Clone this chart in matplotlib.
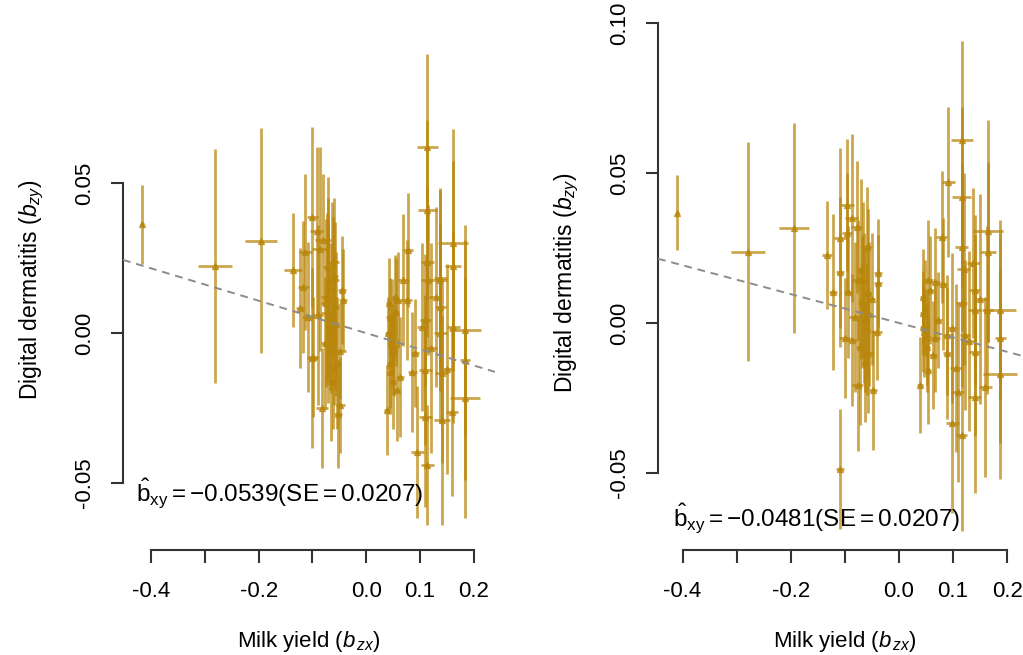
import matplotlib
matplotlib.use("Agg")
import matplotlib.pyplot as plt

plt.rcParams['font.family'] = ['Liberation Sans', 'DejaVu Sans']
plt.rcParams['mathtext.fontset'] = 'custom'
plt.rcParams['mathtext.rm'] = 'Liberation Sans'
plt.rcParams['mathtext.it'] = 'Liberation Sans:italic'
plt.rcParams['mathtext.bf'] = 'Liberation Sans:bold'

# ---------------- data: left panel ----------------
bx_L = [-0.417, -0.281, -0.196,
        -0.136, -0.113, -0.100, -0.092, -0.080, -0.117, -0.123, -0.108, -0.100, -0.082,
        -0.052, -0.048, -0.061, -0.045, -0.043, -0.048, -0.054, -0.073, -0.071, -0.067,
        -0.076, -0.063, -0.071, -0.086, -0.099,
        -0.065, -0.060, -0.058, -0.070, -0.062, -0.056, -0.066, -0.059, -0.075, -0.090,
        0.114, 0.114, 0.162, 0.162, 0.078, 0.114, 0.138, 0.138, 0.110, 0.138,
        0.162, 0.184, 0.184, 0.184, 0.141, 0.110, 0.110, 0.141, 0.160, 0.095,
        0.114, 0.039, 0.076, 0.091, 0.086, 0.045, 0.048, 0.051, 0.045, 0.054,
        0.060, 0.058, 0.041, 0.063, 0.069, 0.138, 0.115,
        0.048, 0.052, 0.044, 0.056, 0.050, 0.043, 0.120, 0.105, 0.150, 0.130]
by_L = [0.0363, 0.0223, 0.0307,
        0.021, 0.027, 0.0387, 0.034, 0.031, 0.0153, 0.0083, 0.0053, -0.0083, -0.025,
        -0.027, -0.024, 0.0237, 0.0143, 0.011, -0.006, -0.010, 0.012, 0.0067, 0.001,
        -0.0033, 0.0177, 0.022, 0.028, -0.008,
        0.005, -0.002, 0.009, 0.015, -0.012, 0.003, -0.016, 0.019, 0.010, 0.006,
        0.062, 0.041, 0.030, 0.0223, 0.0277, 0.0237, 0.0183, 0.0087, 0.0043, 0.0,
        0.002, 0.001, -0.009, -0.0217, -0.0133, -0.0123, -0.028, -0.029, -0.0263, -0.0397,
        -0.044, -0.0257, 0.011, -0.0067, -0.013, 0.0053, -0.0023, -0.0067, -0.010, 0.012,
        0.011, -0.019, 0.0, -0.0147, 0.0177, 0.0177, 0.0177,
        0.003, -0.005, -0.013, 0.007, -0.016, 0.010, -0.005, 0.002, -0.012, 0.012]
sex_L = [0.003, 0.032, 0.030,
         0.016, 0.012, 0.010, 0.012, 0.015, 0.010, 0.008, 0.012, 0.010, 0.012,
         0.008, 0.008, 0.010, 0.008, 0.008, 0.010, 0.008, 0.010, 0.012, 0.010,
         0.008, 0.012, 0.010, 0.015, 0.010,
         0.006, 0.006, 0.008, 0.006, 0.007, 0.006, 0.008, 0.006, 0.008, 0.010,
         0.020, 0.018, 0.028, 0.015, 0.010, 0.012, 0.012, 0.010, 0.010, 0.012,
         0.012, 0.030, 0.010, 0.028, 0.012, 0.012, 0.012, 0.015, 0.012, 0.012,
         0.012, 0.005, 0.010, 0.008, 0.008, 0.008, 0.006, 0.006, 0.006, 0.006,
         0.008, 0.006, 0.005, 0.008, 0.010, 0.012, 0.012,
         0.005, 0.006, 0.005, 0.006, 0.005, 0.005, 0.012, 0.010, 0.012, 0.012]
sey_L = [0.0132, 0.039, 0.0375,
         0.019, 0.026, 0.030, 0.028, 0.022, 0.022, 0.020, 0.025, 0.030, 0.020,
         0.018, 0.016, 0.015, 0.018, 0.017, 0.016, 0.022, 0.028, 0.030, 0.020,
         0.022, 0.026, 0.030, 0.034, 0.020,
         0.025, 0.022, 0.028, 0.030, 0.020, 0.024, 0.020, 0.026, 0.028, 0.030,
         0.031, 0.030, 0.038, 0.035, 0.019, 0.025, 0.030, 0.028, 0.022, 0.030,
         0.032, 0.035, 0.040, 0.040, 0.030, 0.025, 0.030, 0.035, 0.028, 0.022,
         0.020, 0.015, 0.020, 0.018, 0.020, 0.013, 0.012, 0.014, 0.015, 0.014,
         0.016, 0.017, 0.012, 0.020, 0.022, 0.030, 0.025,
         0.015, 0.016, 0.014, 0.018, 0.016, 0.015, 0.035, 0.028, 0.035, 0.030]

# ---------------- data: right panel ----------------
bx_R = [-0.410, -0.279, -0.194, -0.109,
        -0.133, -0.122, -0.109, -0.096, -0.087, -0.078, -0.096, -0.109, -0.094, -0.076,
        -0.059, -0.039, -0.039, -0.081, -0.100, -0.041, -0.068, -0.063, -0.057, -0.076,
        -0.048, -0.087, -0.067,
        -0.065, -0.060, -0.058, -0.070, -0.062, -0.056, -0.050, -0.072,
        0.116, 0.091, 0.116, 0.164, 0.164, 0.079, 0.116, 0.137, 0.054, 0.067,
        0.081, 0.140, 0.044, 0.116, 0.140, 0.163, 0.187, 0.044, 0.052, 0.067,
        0.089, 0.098, 0.122, 0.187, 0.063, 0.089, 0.140, 0.054, 0.039, 0.187,
        0.109, 0.159, 0.140, 0.098, 0.116, 0.072, 0.044,
        0.048, 0.052, 0.058, 0.046, 0.120, 0.105, 0.150, 0.130]
by_R = [0.0367, 0.0237, 0.0317, -0.0487,
        0.0227, 0.0103, 0.0283, 0.0393, 0.035, 0.032, 0.030, 0.017, 0.0103, 0.0143,
        0.0253, 0.0167, 0.0133, 0.002, -0.005, -0.003, 0.007, 0.001, -0.010, -0.0207,
        -0.0223, -0.0057, 0.0143,
        0.005, -0.002, 0.010, 0.018, -0.013, 0.003, 0.008, -0.008,
        0.061, 0.047, 0.042, 0.0307, 0.0237, 0.0287, 0.0253, 0.020, 0.0143, 0.0137,
        0.013, 0.011, 0.0087, 0.0067, 0.0043, 0.0043, 0.0043, -0.0013, -0.0047, -0.005,
        -0.004, -0.0017, -0.004, -0.005, -0.0107, -0.010, -0.0097, -0.0157, -0.0207, -0.017,
        -0.023, -0.0213, -0.0247, -0.0333, -0.0373, 0.001, 0.0033,
        0.005, -0.008, 0.011, -0.003, 0.018, -0.015, 0.008, -0.006]
sex_R = [0.003, 0.031, 0.028, 0.008,
         0.010, 0.008, 0.012, 0.012, 0.012, 0.010, 0.010, 0.008, 0.008, 0.010,
         0.010, 0.008, 0.008, 0.012, 0.010, 0.010, 0.008, 0.010, 0.010, 0.010,
         0.008, 0.010, 0.010,
         0.006, 0.006, 0.008, 0.006, 0.007, 0.006, 0.006, 0.008,
         0.020, 0.012, 0.018, 0.028, 0.015, 0.010, 0.012, 0.012, 0.008, 0.008,
         0.008, 0.010, 0.006, 0.010, 0.012, 0.010, 0.030, 0.006, 0.006, 0.008,
         0.008, 0.008, 0.010, 0.010, 0.008, 0.008, 0.010, 0.006, 0.006, 0.032,
         0.012, 0.012, 0.012, 0.012, 0.010, 0.008, 0.006,
         0.005, 0.005, 0.006, 0.005, 0.012, 0.010, 0.012, 0.012]
sey_R = [0.0125, 0.0365, 0.035, 0.020,
         0.018, 0.026, 0.030, 0.022, 0.028, 0.022, 0.020, 0.025, 0.022, 0.020,
         0.020, 0.018, 0.016, 0.025, 0.020, 0.016, 0.022, 0.024, 0.020, 0.022,
         0.020, 0.022, 0.026,
         0.025, 0.022, 0.028, 0.030, 0.020, 0.024, 0.022, 0.026,
         0.033, 0.025, 0.030, 0.037, 0.030, 0.022, 0.028, 0.025, 0.020, 0.018,
         0.022, 0.025, 0.016, 0.028, 0.025, 0.028, 0.030, 0.015, 0.016, 0.018,
         0.020, 0.025, 0.025, 0.035, 0.018, 0.022, 0.028, 0.018, 0.016, 0.035,
         0.030, 0.030, 0.032, 0.030, 0.032, 0.016, 0.014,
         0.016, 0.015, 0.018, 0.015, 0.032, 0.028, 0.035, 0.030]

slope_L, se_L = -0.0539, 0.0207
slope_R, se_R = -0.0481, 0.0207

x_ticks = [-0.4, -0.3, -0.2, -0.1, 0.0, 0.1, 0.2]
x_ticklabels = ['-0.4', '', '-0.2', '', '0.0', '0.1', '0.2']
y_ticks_L = [-0.05, 0.0, 0.05]
y_ticks_R = [-0.05, 0.0, 0.05, 0.10]

W, H = 1023, 655
fig = plt.figure(figsize=(W / 100, H / 100), dpi=100)

GOLD = '#B8860B'
AXCOL = '#333333'
FS = 16


def px_axes(left, top, right, bottom):
    return fig.add_axes([left / W, 1 - bottom / H, (right - left) / W, (bottom - top) / H])


def panel(ax, bx, by, sex, sey, slope, se, yticks, ylabels, xlim, ylim, ann_xy):
    ax.set_xlim(*xlim)
    ax.set_ylim(*ylim)
    ax.errorbar(bx, by, xerr=sex, yerr=sey, fmt='^', color=GOLD, ecolor=GOLD,
                elinewidth=2.0, ms=4.5, alpha=0.72, capsize=0, zorder=3)
    ax.axline((0, 0), slope=slope, color='#8c8c8c', lw=1.4, ls=(0, (4, 3)), zorder=4)
    for s in ['top', 'right']:
        ax.spines[s].set_visible(False)
    ax.spines['left'].set_bounds(yticks[0], yticks[-1])
    ax.spines['bottom'].set_bounds(x_ticks[0], x_ticks[-1])
    for s in ['left', 'bottom']:
        ax.spines[s].set_color(AXCOL)
        ax.spines[s].set_linewidth(1.5)
    ax.set_xticks(x_ticks)
    ax.set_xticklabels(x_ticklabels, fontsize=FS)
    ax.set_yticks(yticks)
    ax.set_yticklabels(ylabels, fontsize=FS, rotation=90, va='center')
    ax.tick_params(axis='both', length=9, width=1.5, color=AXCOL)
    ax.tick_params(axis='x', pad=13)
    ax.tick_params(axis='y', pad=11)
    ax.set_xlabel(r'Milk yield ($b_{\,zx}$)', fontsize=FS, labelpad=20)
    ax.set_ylabel(r'Digital dermatitis ($b_{zy}$)', fontsize=16.5, labelpad=20)
    ax.text(ann_xy[0], ann_xy[1],
            r'$\hat{\mathrm{b}}_{\mathrm{xy}} = -%.4f(\mathrm{SE} = %.4f)$' % (abs(slope), se),
            transform=ax.transAxes, fontsize=17.5, color='black', va='center', ha='left')
    ax.patch.set_alpha(0)


axL = px_axes(123, 30, 495, 550)
panel(axL, bx_L, by_L, sex_L, sey_L, slope_L, se_L, y_ticks_L,
      ['-0.05', '0.00', '0.05'], (-0.4525, 0.240), (-0.0723, 0.101), (0.035, 0.11))

axR = px_axes(658, 15, 1031, 550)
panel(axR, bx_R, by_R, sex_R, sey_R, slope_R, se_R, y_ticks_R,
      ['-0.05', '0.00', '0.05', '0.10'], (-0.4455, 0.244), (-0.0757, 0.1027), (0.04, 0.06))

fig.savefig('out.png', dpi=100)
